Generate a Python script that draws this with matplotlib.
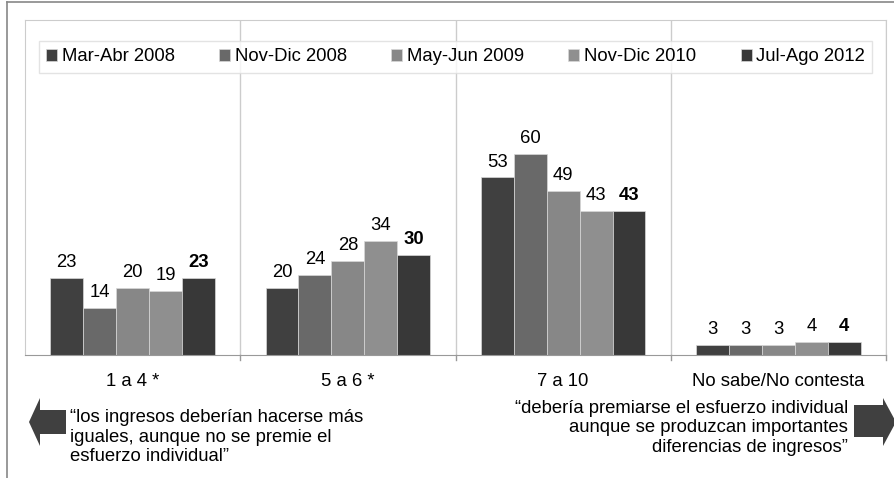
import matplotlib
matplotlib.use('Agg')
import matplotlib.pyplot as plt
from matplotlib.patches import Polygon
from matplotlib.lines import Line2D
import numpy as np

plt.rcParams['font.family'] = ['Liberation Sans', 'DejaVu Sans']

categories = ['1 a 4 *', '5 a 6 *', '7 a 10', 'No sabe/No contesta']
series_names = ['Mar-Abr 2008', 'Nov-Dic 2008', 'May-Jun 2009', 'Nov-Dic 2010', 'Jul-Ago 2012']
values = [
    [23, 20, 53, 3],
    [14, 24, 60, 3],
    [20, 28, 49, 3],
    [19, 34, 43, 4],
    [23, 30, 43, 4],
]
colors = ['#404040', '#696969', '#878787', '#8f8f8f', '#383838']
left_note = '\u201clos ingresos deber\u00edan hacerse m\u00e1s\niguales, aunque no se premie el\nesfuerzo individual\u201d'
right_note = '\u201cdeber\u00eda premiarse el esfuerzo individual\naunque se produzcan importantes\ndiferencias de ingresos\u201d'

W, H = 894, 478
FS = 13.3
fig = plt.figure(figsize=(W / 100, H / 100), dpi=100)
ax = fig.add_axes([25 / W, (H - 355) / H, 861 / W, 335 / H])

x = np.arange(len(categories))
width = 0.153
for i, (name, vals) in enumerate(zip(series_names, values)):
    pos = x + (i - 2) * width
    ax.bar(pos, vals, width, color=colors[i], edgecolor='#d8d8d8', linewidth=0.5, label=name)
    for px_, v in zip(pos, vals):
        ax.text(px_, v + 4.6, str(v), ha='center', va='center', fontsize=FS,
                fontweight='bold' if i == 4 else 'normal')

ax.set_xlim(-0.5, len(categories) - 0.5)
ax.set_ylim(0, 100)
ax.set_yticks([])
ax.set_xticks(x)
ax.set_xticklabels(categories, fontsize=FS)
ax.tick_params(axis='x', length=0, pad=13)
for b in [0.5, 1.5, 2.5, 3.5]:
    ax.axvline(b, color='#cccccc', linewidth=1)
    ax.plot([b, b], [0, -1.5], color='#999999', linewidth=1, clip_on=False)
for s in ['left', 'right', 'top']:
    ax.spines[s].set_color('#cccccc')
ax.spines['bottom'].set_color('#999999')

leg = ax.legend(ncol=5, loc='upper center', bbox_to_anchor=(0.5, 0.937), fontsize=FS,
                frameon=True, fancybox=False, edgecolor='#dddddd', handlelength=0.6,
                handleheight=0.6, handletextpad=0.25, columnspacing=2.4, borderpad=0.4,
                borderaxespad=0)
leg.get_frame().set_linewidth(1)

# outer frame lines
fig.add_artist(Line2D([7 / W, 7 / W], [0, 1 - 2 / H], color='#888888', linewidth=1.2))
fig.add_artist(Line2D([7 / W, 1], [1 - 2 / H, 1 - 2 / H], color='#888888', linewidth=1.2))


def px(xp, yp):
    return (xp / W, 1 - yp / H)


left_arrow = [px(29, 422), px(40, 398), px(40, 410), px(66, 410), px(66, 434), px(40, 434), px(40, 446)]
right_arrow = [px(854, 405), px(883, 405), px(883, 398), px(896, 422), px(883, 446), px(883, 437), px(854, 437)]
fig.add_artist(Polygon(left_arrow, closed=True, transform=fig.transFigure, facecolor='#404040', edgecolor='none'))
fig.add_artist(Polygon(right_arrow, closed=True, transform=fig.transFigure, facecolor='#404040', edgecolor='none'))

fig.text(70 / W, 1 - 437 / H, left_note, ha='left', va='center', fontsize=FS, linespacing=1.2)
fig.text(848 / W, 1 - 428 / H, right_note, ha='right', va='center', fontsize=FS, linespacing=1.2,
         multialignment='right')

fig.savefig('out.png', dpi=100)
